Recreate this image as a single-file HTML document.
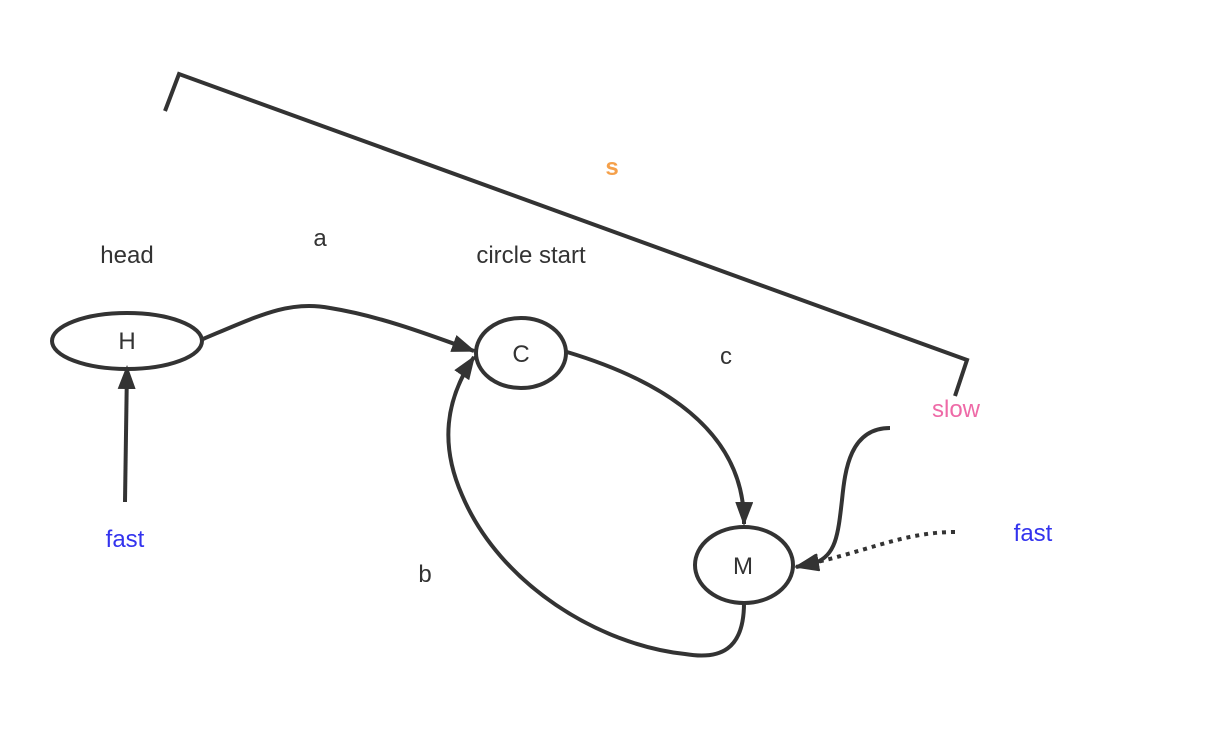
<!DOCTYPE html>
<html><head><meta charset="utf-8"><style>
html,body{margin:0;padding:0;background:#fff;}
svg{display:block;}
text{font-family:"Liberation Sans",sans-serif;font-size:24px;fill:#333;}
</style></head><body>
<svg width="1210" height="730" viewBox="0 0 1210 730" xmlns="http://www.w3.org/2000/svg">
<defs>
<marker id="a" viewBox="0 0 24 18" refX="22" refY="9" markerWidth="24" markerHeight="18" markerUnits="userSpaceOnUse" orient="auto">
<path d="M0,0 L24,9 L0,18 z" fill="#333"/>
</marker>
</defs>
<g fill="none" stroke="#333" stroke-width="4">
<polyline points="165,111 179,74 967,360 955,396" stroke-linejoin="miter"/>
<ellipse cx="127" cy="341" rx="75" ry="28"/>
<ellipse cx="521" cy="353" rx="45" ry="35"/>
<ellipse cx="744" cy="565" rx="49" ry="38"/>
<path d="M203,339 C260,315 290,300 330,308 C380,316 430,335 474,351" marker-end="url(#a)"/>
<path d="M567,352 C660,380 745,430 744,524" marker-end="url(#a)"/>
<path d="M744,603 C744,650 720,660 685,654 C600,645 500,585 462,495 C440,445 445,400 474,357" marker-end="url(#a)"/>
<path d="M125,502 L127,367" marker-end="url(#a)"/>
<path d="M890,428 C850,428 845,470 842,500 C838,535 836,555 815,563 L796,567" marker-end="url(#a)"/>
<path d="M955,532 C900,532 860,555 797,566" stroke-dasharray="4,5" marker-end="url(#a)"/>
</g>
<text x="127" y="263" text-anchor="middle">head</text>
<text x="320" y="246" text-anchor="middle">a</text>
<text x="531" y="263" text-anchor="middle">circle start</text>
<text x="612" y="175" text-anchor="middle" style="fill:#f5a04a;font-weight:bold">s</text>
<text x="127" y="349" text-anchor="middle">H</text>
<text x="521" y="362" text-anchor="middle">C</text>
<text x="743" y="574" text-anchor="middle">M</text>
<text x="726" y="364" text-anchor="middle">c</text>
<text x="425" y="582" text-anchor="middle">b</text>
<text x="956" y="417" text-anchor="middle" style="fill:#ee6aa7">slow</text>
<text x="125" y="547" text-anchor="middle" style="fill:#3333ee">fast</text>
<text x="1033" y="541" text-anchor="middle" style="fill:#3333ee">fast</text>
</svg>
</body></html>
